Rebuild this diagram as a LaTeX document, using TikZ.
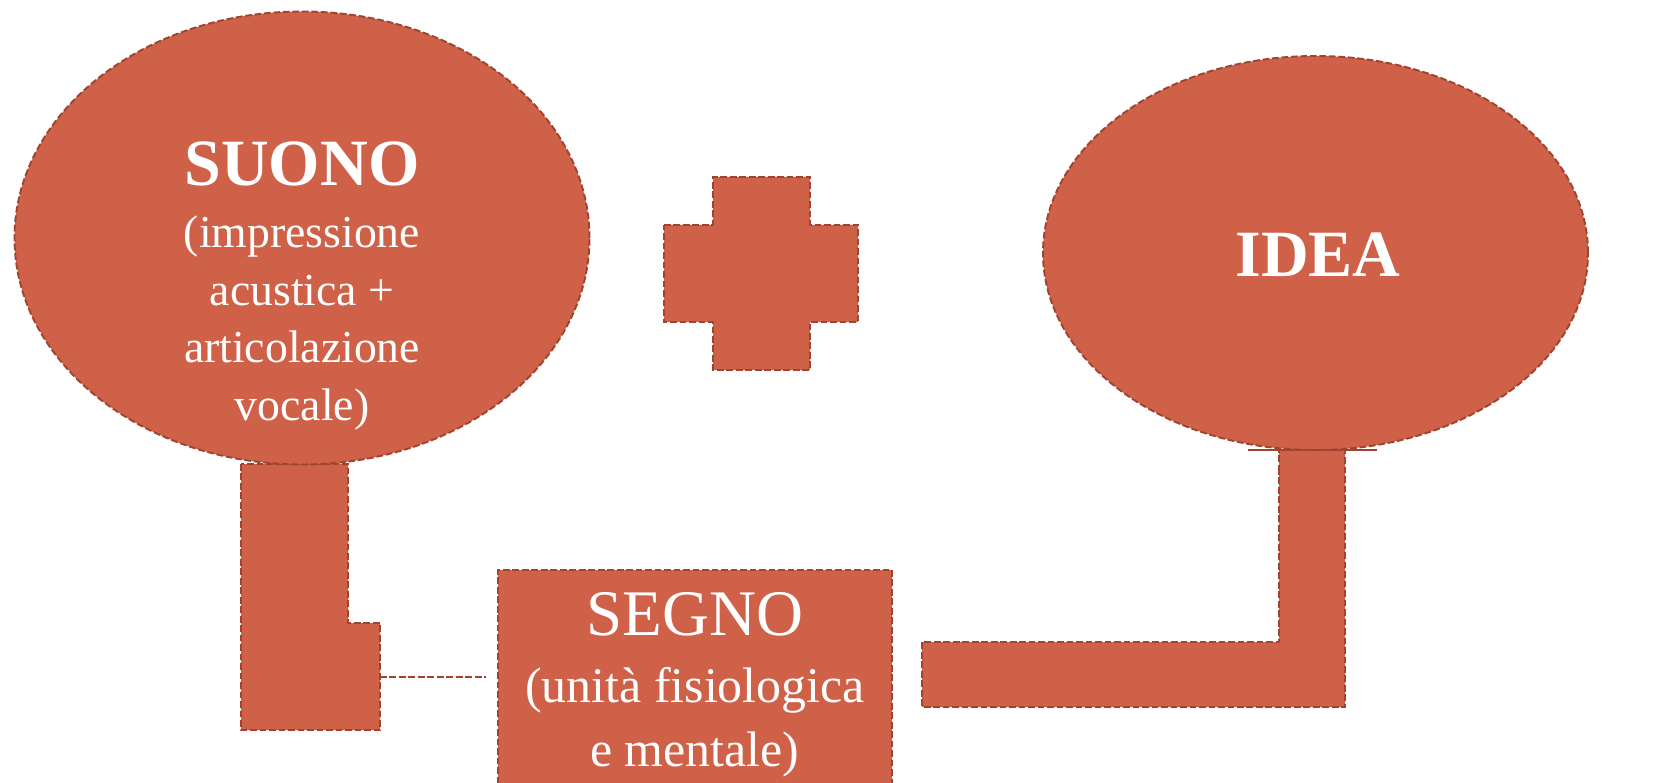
\documentclass[tikz,border=0pt]{standalone}
\usepackage{fontspec}
\setmainfont{Liberation Serif}
\usetikzlibrary{calc, shapes.geometric}
\definecolor{brick}{RGB}{207,97,72}
\definecolor{brickdark}{RGB}{160,68,48}
\tikzset{
  shp/.style={fill=brick, draw=brickdark, line width=.55pt, dash pattern=on 1.9pt off .8pt},
  ell/.style={ellipse, shp, inner sep=0, minimum width=#1},
  rim/.style={draw=brickdark, line width=.8pt},
  txt/.style={text=white, align=center, font=\fontsize{#1}{16.4pt}\selectfont}
}
\newcommand{\bigcaps}[1]{{\fontsize{18.8pt}{16.4pt}\selectfont\bfseries #1}}
\begin{document}
\begin{tikzpicture}
\useasboundingbox (0, 0) rectangle (16.6, 7.82);
\clip (0, 0) rectangle (16.6, 7.82);
\fill [white] (0, 0) rectangle (16.6, 7.82);
% bottom-left stem
\draw [shp] (2.41, 3.18) -- (2.41, 0.52) -- (3.80, 0.52) -- (3.80, 1.59) -- (3.48, 1.59) -- (3.48, 3.18) -- cycle;
% bottom-right stem
\draw [shp] (12.79, 3.14) -- (12.79, 1.40) -- (9.22, 1.40) -- (9.22, .75) -- (13.45, .75) -- (13.45, 3.32) -- (12.79, 3.32) -- cycle;
\node at (3.02, 5.44) [name=suono, ell=5.75cm, minimum height=4.53cm] {};
\node at (13.155, 5.29) [name=idea, ell=5.45cm, minimum height=3.94cm] {};
\node at (6.95, 1.02) [name=segno, shp, rectangle, minimum width=3.94cm, minimum height=2.2cm, inner sep=0] {};
\draw [shp] (6.64, 5.57) -- ++(.49, 0) -- ++(0, .48) -- ++(.97, 0) -- ++(0, -.48) -- ++(.48, 0)
  -- ++(0, -.97) -- ++(-.48, 0) -- ++(0, -.48) -- ++(-.97, 0) -- ++(0, .48) -- ++(-.49, 0) -- cycle;
\coordinate (L) at (3.80, 1.05);
\coordinate (R) at (4.86, 1.05);
\coordinate (A) at (12.48, 3.32);
\coordinate (B) at (13.77, 3.32);
\draw [shp, fill=none, line width=.8pt] (L) -- (R);
\draw [rim] (A) -- (B);
\node at (3.02, 4.96) [name=suonotxt, txt=13pt] {\bigcaps{SUONO}\\[1.2pt](impressione\\acustica +\\articolazione\\vocale)};
\node at (13.18, 5.27) [name=ideatxt, txt=13pt] {\bigcaps{IDEA}};
\node at (6.95, .974) [name=segnotxt, txt=14.2pt, font=\fontsize{14.2pt}{18.2pt}\selectfont] {{\fontsize{18.5pt}{18.2pt}\selectfont SEGNO}\\[.7pt](unità fisiologica\\e mentale)};
\end{tikzpicture}
\end{document}
